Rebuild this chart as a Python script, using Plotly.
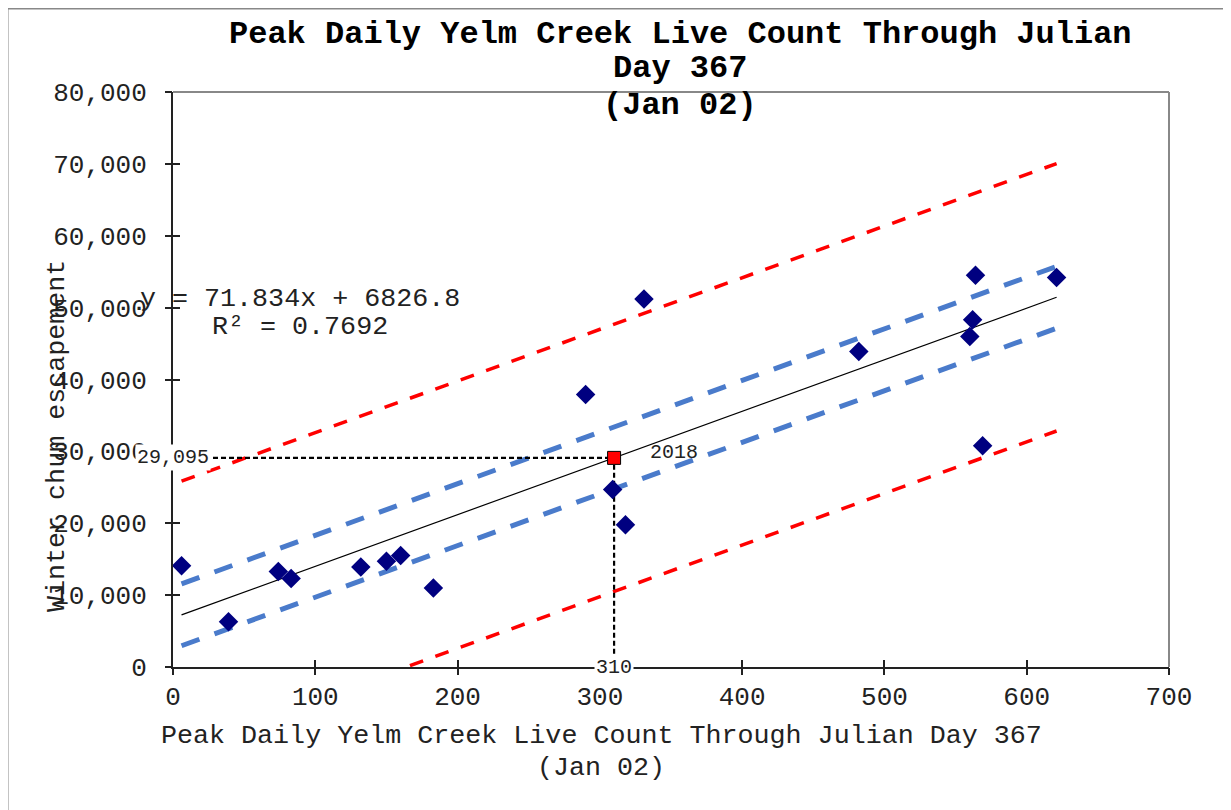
import plotly.graph_objects as go

# ---- data ----
peak_count = [6, 39, 74, 83, 132, 150, 160, 183, 290, 309, 318, 331, 482, 560, 562, 564, 569, 621]
escapement = [14100, 6300, 13300, 12300, 13900, 14700, 15500, 11000, 37900, 24700, 19800, 51200,
              43900, 46000, 48300, 54500, 30800, 54200]

slope = 71.834
intercept = 6826.8
r_squared = 0.7692
ci_half = 4300      # half-width of blue (confidence) band
pi_half = 18600     # half-width of red (prediction) band

year_2018 = "2018"
x_2018 = 310
y_2018 = 29095

x_ticks = [0, 100, 200, 300, 400, 500, 600, 700]
y_ticks = [0, 10000, 20000, 30000, 40000, 50000, 60000, 70000, 80000]

line_x = [min(peak_count), max(peak_count)]
fit_y = [slope * v + intercept for v in line_x]

FONT = "Liberation Mono, Courier New, monospace"
W, H = 1231, 810
OFF = 8  # page body margin
PL, PR, PT, PB = 173, 1169, 92, 667   # plot area in screenshot pixels
PW, PH = PR - PL, PB - PT


def px(xp):
    return (xp - PL) / PW


def py(yp):
    return (PB - yp) / PH


fig = go.Figure()

# prediction band (red)
for sgn in (1, -1):
    fig.add_trace(go.Scatter(x=line_x, y=[v + sgn * pi_half for v in fit_y], mode="lines",
                             line=dict(color="#FF0000", width=3.5, dash="14px,13px"),
                             hoverinfo="skip", showlegend=False))
# confidence band (blue)
for sgn in (1, -1):
    fig.add_trace(go.Scatter(x=line_x, y=[v + sgn * ci_half for v in fit_y], mode="lines",
                             line=dict(color="#4A7BCB", width=5, dash="19px,16px"),
                             hoverinfo="skip", showlegend=False))
# regression line
fig.add_trace(go.Scatter(x=line_x, y=fit_y, mode="lines", line=dict(color="black", width=1.2),
                         hoverinfo="skip", showlegend=False))
# guide lines for 2018
fig.add_trace(go.Scatter(x=[0, x_2018, x_2018], y=[y_2018, y_2018, 0], mode="lines",
                         line=dict(color="black", width=2.2, dash="5px,3px"),
                         hoverinfo="skip", showlegend=False))
# data points
fig.add_trace(go.Scatter(x=peak_count, y=escapement, mode="markers",
                         marker=dict(symbol="diamond", size=15, color="#000080"),
                         showlegend=False))
# 2018 point
fig.add_trace(go.Scatter(x=[x_2018], y=[y_2018], mode="markers",
                         marker=dict(symbol="square", size=13, color="#FF0000",
                                     line=dict(color="black", width=1)),
                         showlegend=False))
# invisible trace for overlay axes (outside ticks -> crossing ticks)
fig.add_trace(go.Scatter(x=[None], y=[None], xaxis="x2", yaxis="y2", showlegend=False,
                         hoverinfo="skip"))

fig.update_layout(
    width=W, height=H,
    margin=dict(l=PL - OFF, r=W - (PR - OFF), t=PT - OFF, b=H - (PB - OFF)),
    paper_bgcolor="white", plot_bgcolor="white",
    font=dict(family=FONT, color="black", size=26),
    xaxis=dict(range=[0, 700], tickvals=x_ticks, showgrid=False, zeroline=False,
               showline=True, linecolor="#222", linewidth=2, ticks="inside", ticklen=7,
               tickcolor="#222", tickwidth=1.5, tickfont=dict(size=26, color="#222"),
               ticklabelstandoff=5),
    yaxis=dict(range=[0, 80000], tickvals=y_ticks, tickformat=",d", showgrid=False,
               zeroline=False, showline=True, linecolor="#222", linewidth=2, ticks="inside",
               ticklen=7, tickcolor="#222", tickwidth=1.5, tickfont=dict(size=26, color="#222"),
               ticklabelstandoff=19),
    xaxis2=dict(range=[0, 700], tickvals=x_ticks, overlaying="x", anchor="y2", side="bottom",
                showgrid=False, zeroline=False, showline=False, ticks="outside", ticklen=7,
                tickcolor="#222", tickwidth=1.5, showticklabels=False),
    yaxis2=dict(range=[0, 80000], tickvals=y_ticks, overlaying="y", anchor="x2", side="left",
                showgrid=False, zeroline=False, showline=False, ticks="outside", ticklen=7,
                tickcolor="#222", tickwidth=1.5, showticklabels=False),
    shapes=[
        # plot area top/right border (gray)
        dict(type="line", xref="paper", yref="paper", x0=0, x1=1, y0=1, y1=1,
             line=dict(color="#888", width=2), layer="below"),
        dict(type="line", xref="paper", yref="paper", x0=1, x1=1, y0=0, y1=1,
             line=dict(color="#888", width=2), layer="below"),
        # outer chart border
        dict(type="rect", xref="paper", yref="paper", x0=px(7.5), x1=px(1300), y0=py(900), y1=py(8.5),
             line=dict(color="#888", width=2), layer="below"),
    ],
)

ann = []
title_lines = ["Peak Daily Yelm Creek Live Count Through Julian", "Day 367", "(Jan 02)"]
title_y = [34, 69, 105]
for txt, yy in zip(title_lines, title_y):
    ann.append(dict(text="<b>" + txt + "</b>", xref="paper", yref="paper", x=px(680), y=py(yy),
                    xanchor="center", yanchor="middle", showarrow=False,
                    font=dict(size=32, family=FONT, color="black")))
# x axis title
ann.append(dict(text="Peak Daily Yelm Creek Live Count Through Julian Day 367", xref="paper",
                yref="paper", x=px(601), y=py(736), xanchor="center", yanchor="middle",
                showarrow=False, font=dict(size=26.7, family=FONT, color="#222")))
ann.append(dict(text="(Jan 02)", xref="paper", yref="paper", x=px(601), y=py(768),
                xanchor="center", yanchor="middle", showarrow=False,
                font=dict(size=26.7, family=FONT, color="#222")))
# y axis title
ann.append(dict(text="Winter chum escapement", xref="paper", yref="paper", x=px(57), y=py(436),
                xanchor="center", yanchor="middle", textangle=-90, showarrow=False,
                font=dict(size=26.7, family=FONT, color="#222")))
# regression equation
ann.append(dict(text=f"y = {slope}x + {intercept}", xref="paper", yref="paper", x=px(300),
                y=py(299), xanchor="center", yanchor="middle", showarrow=False,
                font=dict(size=26.7, family=FONT, color="#222")))
ann.append(dict(text=f"R² = {r_squared}", xref="paper", yref="paper", x=px(300), y=py(327),
                xanchor="center", yanchor="middle", showarrow=False,
                font=dict(size=26.7, family=FONT, color="#222")))
# 2018 data labels
ann.append(dict(text=f"{y_2018:,}", x=0, y=y_2018, xref="x", yref="y", xanchor="center",
                yanchor="middle", showarrow=False, bgcolor="white",
                font=dict(size=20, family=FONT, color="#222")))
ann.append(dict(text=str(x_2018), x=x_2018, y=0, xref="x", yref="y", xanchor="center",
                yanchor="middle", showarrow=False, bgcolor="white",
                font=dict(size=20, family=FONT, color="#222")))
ann.append(dict(text=year_2018, x=x_2018, y=y_2018, xref="x", yref="y", xanchor="left",
                yanchor="middle", xshift=34, yshift=5, showarrow=False,
                font=dict(size=20, family=FONT, color="#222")))
fig.update_layout(annotations=ann)

fig.write_html("out.html")
